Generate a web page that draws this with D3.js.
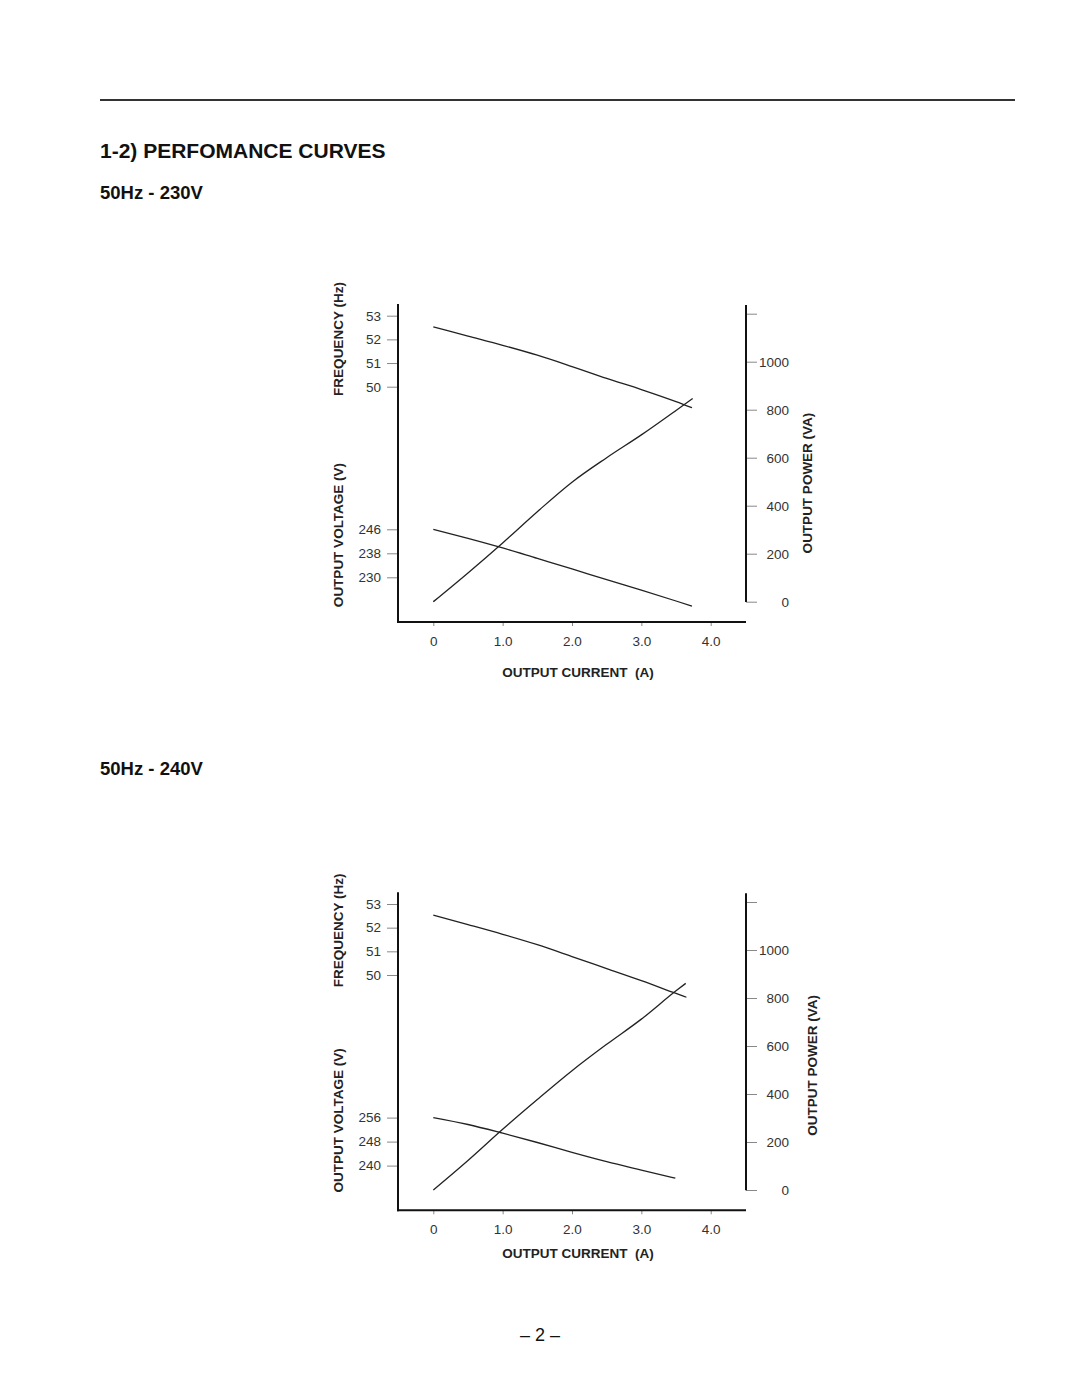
<!DOCTYPE html>
<html lang="en">
<head>
<meta charset="utf-8">
<title>Perfomance Curves</title>
<script src="https://cdn.jsdelivr.net/npm/d3@7"></script>
<style>
  body { margin: 0; background: #fff; }
  svg { font-family: "Liberation Sans", Arial, Helvetica, sans-serif; }
</style>
</head>
<body>
<script>
// ---- data ----
var xTicks = [0, 1, 2, 3, 4];
var freqTicks = [50, 51, 52, 53];
var powerTicks = [0, 200, 400, 600, 800, 1000, 1200];

// 50Hz - 230V
var volt230Ticks = [230, 238, 246];
var freq230I = [0, 0.5, 1.0, 1.5, 2.0, 2.5, 3.0, 3.5, 3.73];
var freq230 = [52.53, 52.14, 51.75, 51.33, 50.85, 50.35, 49.88, 49.37, 49.11];
var volt230I = [0, 0.5, 1.0, 1.5, 2.0, 2.5, 3.0, 3.5, 3.73];
var volt230 = [246, 243, 239.8, 236.3, 232.8, 229.2, 225.7, 222.1, 220.4];
var pow230I = [0, 0.5, 1.0, 1.5, 2.0, 2.5, 3.0, 3.5, 3.74];
var pow230 = [0, 120, 245, 375, 498, 600, 695, 797, 847];

// 50Hz - 240V
var volt240Ticks = [240, 248, 256];
var freq240I = [0, 0.5, 1.0, 1.5, 2.0, 2.5, 3.0, 3.5, 3.65];
var freq240 = [52.53, 52.13, 51.72, 51.28, 50.78, 50.27, 49.76, 49.22, 49.06];
var volt240I = [0, 0.5, 1.0, 1.5, 2.0, 2.5, 3.0, 3.49];
var volt240 = [256, 253.7, 250.8, 247.7, 244.4, 241.3, 238.5, 235.8];
var pow240I = [0, 0.5, 1.0, 1.5, 2.0, 2.5, 3.0, 3.5, 3.64];
var pow240 = [0, 123, 253, 377, 497, 607, 712, 830, 861];

var w = 1080, h = 1397;
var svg = d3.select("body").append("svg")
    .attr("width", w)
    .attr("height", h);

// header
svg.append("line")
    .attr("x1", 100).attr("x2", 1015)
    .attr("y1", 100).attr("y2", 100)
    .attr("stroke", "#333").attr("stroke-width", 2);

svg.append("text")
    .attr("x", 100).attr("y", 158)
    .attr("font-size", "21px").attr("font-weight", "bold")
    .attr("fill", "#111")
    .text("1-2) PERFOMANCE CURVES");

svg.append("text")
    .attr("x", 540).attr("y", 1341)
    .attr("text-anchor", "middle")
    .attr("font-size", "18px").attr("fill", "#111")
    .text("\u2013 2 \u2013");

function zip(xs, ys) {
    return xs.map(function(d, i) { return [d, ys[i]]; });
}

function drawChart(cfg) {
    var g = svg.append("g").attr("transform", "translate(0," + cfg.dy + ")");

    g.append("text")
        .attr("x", 100).attr("y", cfg.subY)
        .attr("font-size", "18.5px").attr("font-weight", "bold")
        .attr("fill", "#111")
        .text(cfg.title);

    var xScale = d3.scaleLinear().domain([0, 4]).range([433.3, 710.7]);
    var fScale = d3.scaleLinear().domain([50, 53]).range([386.7, 315.7]);
    var vScale = d3.scaleLinear().domain([cfg.vTicks[0], cfg.vTicks[2]]).range([577.3, 529.3]);
    var pScale = d3.scaleLinear().domain([0, 1200]).range([601.7, 313.7]);

    var leftX = 398, rightX = 746, baseY = 622;

    // left ticks
    var fAxis = g.append("g").attr("transform", "translate(" + leftX + ",0)")
        .call(d3.axisLeft(fScale).tickValues(freqTicks).tickSize(11).tickPadding(6)
            .tickFormat(d3.format("d")));
    var vAxis = g.append("g").attr("transform", "translate(" + leftX + ",0)")
        .call(d3.axisLeft(vScale).tickValues(cfg.vTicks).tickSize(11).tickPadding(6)
            .tickFormat(d3.format("d")));

    // right ticks
    var pAxis = g.append("g").attr("transform", "translate(" + rightX + ",0)")
        .call(d3.axisRight(pScale).tickValues(powerTicks).tickSize(11)
            .tickFormat(function(d) { return d === 1200 ? "" : d; }));
    pAxis.selectAll("text").attr("text-anchor", "end").attr("x", 43);

    // bottom ticks
    var xAxis = g.append("g").attr("transform", "translate(0," + baseY + ")")
        .call(d3.axisBottom(xScale).tickValues(xTicks).tickSize(4).tickPadding(10)
            .tickFormat(function(d) { return d === 0 ? "0" : d.toFixed(1); }));

    [fAxis, vAxis, pAxis, xAxis].forEach(function(a) {
        a.select(".domain").remove();
        a.selectAll(".tick line").attr("stroke", "#888").attr("stroke-width", 1);
        a.selectAll("text").attr("font-size", "13.5px").attr("fill", "#333");
        a.attr("font-family", null).attr("font-size", null);
    });

    // axis lines
    g.append("line").attr("x1", leftX).attr("x2", leftX)
        .attr("y1", 304).attr("y2", baseY + 1)
        .attr("stroke", "#111").attr("stroke-width", 2);
    g.append("line").attr("x1", leftX - 1).attr("x2", rightX)
        .attr("y1", baseY).attr("y2", baseY)
        .attr("stroke", "#111").attr("stroke-width", 2);
    g.append("line").attr("x1", rightX).attr("x2", rightX)
        .attr("y1", 305).attr("y2", 602)
        .attr("stroke", "#111").attr("stroke-width", 2);

    // axis titles
    function vLabel(x, y, txt) {
        g.append("text")
            .attr("transform", "translate(" + x + "," + y + ") rotate(-90)")
            .attr("text-anchor", "middle")
            .attr("font-size", "13.5px").attr("font-weight", "bold")
            .attr("fill", "#222")
            .text(txt);
    }
    vLabel(343, cfg.freqLabY, "FREQUENCY (Hz)");
    vLabel(343, cfg.voltLabY, "OUTPUT VOLTAGE (V)");
    vLabel(cfg.powLabX, cfg.powLabY, "OUTPUT POWER (VA)");

    g.append("text")
        .attr("x", 578).attr("y", cfg.curLabY)
        .attr("text-anchor", "middle")
        .attr("font-size", "13.5px").attr("font-weight", "bold")
        .attr("fill", "#222")
        .attr("xml:space", "preserve")
        .text("OUTPUT CURRENT  (A)");

    // curves
    function curve(data, yScale) {
        var line = d3.line()
            .x(function(d) { return xScale(d[0]); })
            .y(function(d) { return yScale(d[1]); })
            .curve(d3.curveMonotoneX);
        g.append("path")
            .datum(data)
            .attr("d", line)
            .attr("fill", "none")
            .attr("stroke", "#222")
            .attr("stroke-width", 1.3);
    }
    curve(cfg.freq, fScale);
    curve(cfg.volt, vScale);
    curve(cfg.pow, pScale);
}

drawChart({
    dy: 0, title: "50Hz - 230V", subY: 199,
    vTicks: volt230Ticks,
    freq: zip(freq230I, freq230),
    volt: zip(volt230I, volt230),
    pow: zip(pow230I, pow230),
    freqLabY: 339, voltLabY: 535, powLabX: 812, powLabY: 483, curLabY: 677
});

drawChart({
    dy: 588.3, title: "50Hz - 240V", subY: 775 - 588.3,
    vTicks: volt240Ticks,
    freq: zip(freq240I, freq240),
    volt: zip(volt240I, volt240),
    pow: zip(pow240I, pow240),
    freqLabY: 342, voltLabY: 532, powLabX: 817, powLabY: 477, curLabY: 670
});
</script>
</body>
</html>
